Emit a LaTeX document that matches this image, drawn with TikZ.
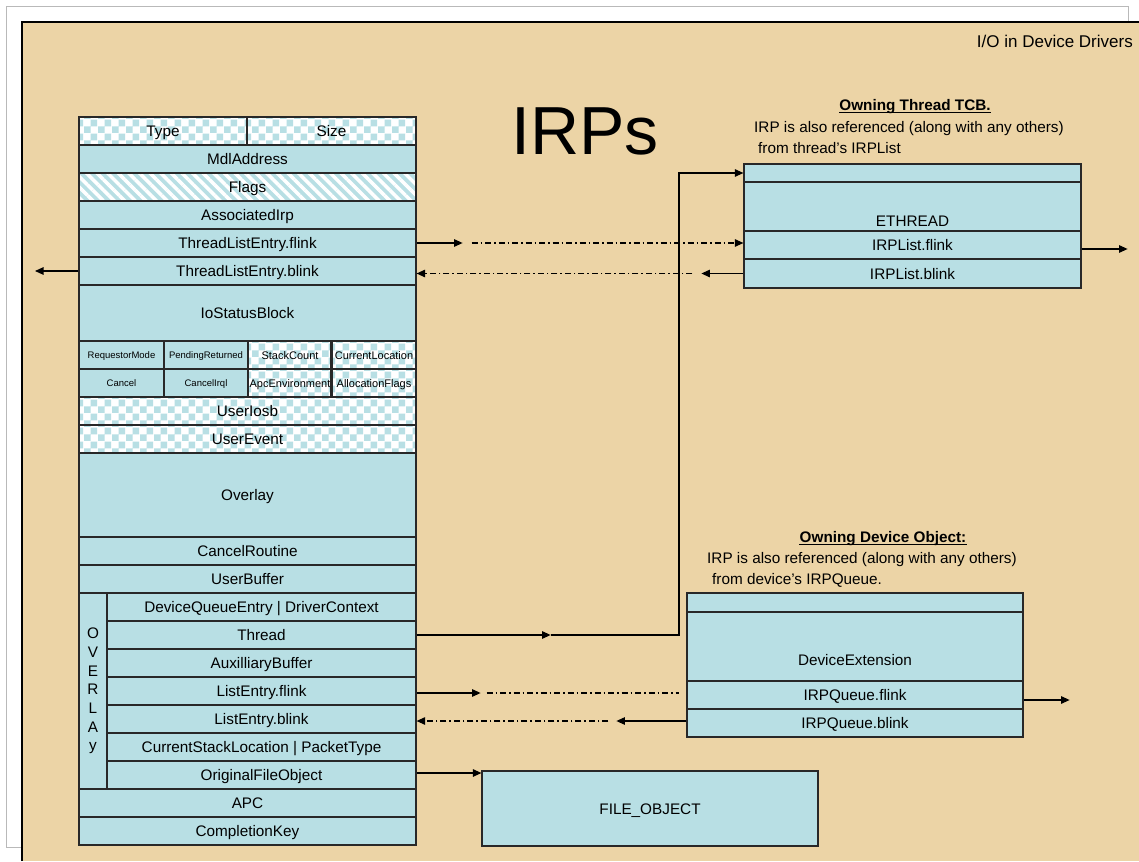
\documentclass[tikz,border=0pt]{standalone}
\usepackage{fontspec}
\setmainfont{Liberation Sans}
\usetikzlibrary{arrows.meta,patterns,patterns.meta}
\definecolor{cellblue}{RGB}{184,223,228}
\definecolor{tanbg}{RGB}{236,212,166}
\definecolor{linec}{RGB}{40,40,40}
\pgfdeclarepatternformonly{ckb}{\pgfpointorigin}{\pgfpoint{14pt}{14pt}}{\pgfpoint{14pt}{14pt}}{%
  \pgfpathrectangle{\pgfpointorigin}{\pgfpoint{7pt}{7pt}}%
  \pgfpathrectangle{\pgfpoint{7pt}{7pt}}{\pgfpoint{7pt}{7pt}}%
  \pgfusepath{fill}}
\newcommand\fbody{\fontsize{15.3}{18}\selectfont}
\newcommand\fsmall{\fontsize{9.5}{11}\selectfont}
\newcommand\fmid{\fontsize{11}{13}\selectfont}
\begin{document}
\begin{tikzpicture}[x=1pt,y=-1pt,
  >={Triangle[length=8.5pt,width=7.5pt]},
  cell/.style={draw=linec, line width=1.2pt, fill=cellblue, inner sep=0pt, font=\fbody, text height=11pt, text depth=0pt},
  ckcell/.style={draw=linec, line width=1.2pt, inner sep=0pt, font=\fbody, text height=11pt, text depth=0pt, preaction={fill=white}, pattern=ckb, pattern color=cellblue},
  flagcell/.style={cell, postaction={pattern={Lines[angle=-45,distance=7.5pt,line width=3.5pt]}, pattern color=white}, postaction={draw=linec, line width=1.2pt}},
  fullrow/.style={minimum width=337pt, minimum height=28pt},
  subrow/.style={minimum width=309pt, minimum height=28pt},
  qcell/.style={minimum width=84pt, minimum height=28pt},
  txt/.style={font=\fbody, inner sep=0pt, text height=11pt, text depth=0pt},
  conn/.style={draw=black, line width=1.1pt},
  dd/.style={conn, dash pattern=on 6pt off 3pt on 1.5pt off 3pt}]
% background
\useasboundingbox (0,0) rectangle (1139,861);
\fill[white] (0,0) rectangle (1139,861);
\draw[gray!55, line width=0.8pt] (6,6) rectangle (1128,847);
\fill[tanbg] (22,22) rectangle (1139,861);
\draw[black, line width=1.2pt] (22,861) -- (22,22) -- (1139,22);
% titles
\node[txt, font=\fontsize{17}{20}\selectfont, text height=12pt, anchor=east] (io) at (1133,42) {I/O in Device Drivers};
\node[inner sep=0pt, font=\fontsize{68}{70}\selectfont, text height=49pt, text depth=0pt] (title) at (585,130) {IRPs};
% IRP structure
\node[ckcell, minimum width=168pt, minimum height=28pt] (type) at (163,131) {Type};
\node[ckcell, minimum width=169pt, minimum height=28pt] (size) at (331.5,131) {Size};
\node[cell, fullrow] (mdl) at (247.5,159) {MdlAddress};
\node[flagcell, fullrow] (flags) at (247.5,187) {Flags};
\node[cell, fullrow] (assoc) at (247.5,215) {AssociatedIrp};
\node[cell, fullrow] (tlflink) at (247.5,243) {ThreadListEntry.flink};
\node[cell, fullrow] (tlblink) at (247.5,271) {ThreadListEntry.blink};
\node[cell, fullrow, minimum height=56pt] (iosb) at (247.5,313) {IoStatusBlock};
\node[cell, qcell, minimum width=85pt, font=\fsmall, text height=7pt] (reqmode) at (121.5,355) {RequestorMode};
\node[cell, qcell, font=\fsmall, text height=7pt] (pendret) at (206,355) {PendingReturned};
\node[ckcell, qcell, font=\fmid, text height=8pt] (stackcnt) at (290,355) {StackCount};
\node[ckcell, qcell, font=\fmid, text height=8pt] (curloc) at (374,355) {CurrentLocation};
\node[cell, qcell, minimum width=85pt, font=\fsmall, text height=7pt] (cancel) at (121.5,383) {Cancel};
\node[cell, qcell, font=\fsmall, text height=7pt] (cancelirql) at (206,383) {CancelIrql};
\node[ckcell, qcell, font=\fmid, text height=8pt] (apcenv) at (290,383) {ApcEnvironment};
\node[ckcell, qcell, font=\fmid, text height=8pt] (allocflags) at (374,383) {AllocationFlags};
\draw[linec, line width=2.4pt] (curloc.north west) -- (allocflags.south west);
\node[ckcell, fullrow] (useriosb) at (247.5,411) {UserIosb};
\node[ckcell, fullrow] (userevent) at (247.5,439) {UserEvent};
\node[cell, fullrow, minimum height=84pt] (overlay) at (247.5,495) {Overlay};
\node[cell, fullrow] (cancelr) at (247.5,551) {CancelRoutine};
\node[cell, fullrow] (userbuf) at (247.5,579) {UserBuffer};
\node[cell, minimum width=28pt, minimum height=196pt, align=center, text height=, text depth=, font=\fontsize{15.3}{18.7}\selectfont] (ovl) at (93,691) {O\\V\\E\\R\\L\\A\\y};
\node[cell, subrow] (dqe) at (261.5,607) {DeviceQueueEntry | DriverContext};
\node[cell, subrow] (thread) at (261.5,635) {Thread};
\node[cell, subrow] (auxbuf) at (261.5,663) {AuxilliaryBuffer};
\node[cell, subrow] (leflink) at (261.5,691) {ListEntry.flink};
\node[cell, subrow] (leblink) at (261.5,719) {ListEntry.blink};
\node[cell, subrow] (csl) at (261.5,747) {CurrentStackLocation | PacketType};
\node[cell, subrow] (ofo) at (261.5,775) {OriginalFileObject};
\node[cell, fullrow] (apc) at (247.5,803) {APC};
\node[cell, fullrow] (compkey) at (247.5,831) {CompletionKey};
% owning thread
\node[txt, font=\bfseries\fbody] (thdr) at (915,105) {Owning Thread TCB.};
\draw[black, line width=1pt] ([yshift=-1.8pt]thdr.south west) -- ([yshift=-1.8pt]thdr.south east);
\node[txt, anchor=west] (th1) at (754,127) {IRP is also referenced (along with any others)};
\node[txt, anchor=west] (th2) at (758,148) {from thread's IRPList};
\node[cell, minimum width=337pt, minimum height=18pt] (ethtop) at (912.5,173) {};
\node[cell, minimum width=337pt, minimum height=49pt] (ethmid) at (912.5,206.5) {};
\node[txt] (ethlbl) at (912.5,221) {ETHREAD};
\node[cell, minimum width=337pt, minimum height=28pt] (ethflink) at (912.5,245) {IRPList.flink};
\node[cell, minimum width=337pt, minimum height=29pt] (ethblink) at (912.5,273.5) {IRPList.blink};
% owning device
\node[txt, font=\bfseries\fbody] (dhdr) at (883,537) {Owning Device Object:};
\draw[black, line width=1pt] ([yshift=-1.8pt]dhdr.south west) -- ([yshift=-1.8pt]dhdr.south east);
\node[txt, anchor=west] (dh1) at (707,558) {IRP is also referenced (along with any others)};
\node[txt, anchor=west] (dh2) at (712,579) {from device's IRPQueue.};
\node[cell, minimum width=336pt, minimum height=19pt] (devtop) at (855,602.5) {};
\node[cell, minimum width=336pt, minimum height=69pt] (devmid) at (855,646.5) {};
\node[txt] (devlbl) at (855,660) {DeviceExtension};
\node[cell, minimum width=336pt, minimum height=28pt] (devflink) at (855,695) {IRPQueue.flink};
\node[cell, minimum width=336pt, minimum height=28pt] (devblink) at (855,723) {IRPQueue.blink};
% file object
\node[cell, minimum width=336pt, minimum height=75pt] (fo) at (650,808.5) {FILE\_OBJECT};
% connectors
\draw[conn,->] (tlflink.east) -- ++(46,0) coordinate (f1);
\draw[dd,->] ([xshift=9pt]f1) -- (f1 -| ethflink.west);
\draw[conn,->] (ethblink.west) -- ++(-42,0) coordinate (b1);
\draw[dd,->] ([xshift=-9pt]b1) -- (b1 -| tlblink.east);
\coordinate (lft) at (35,271);
\draw[conn,->] (tlblink.west) -- (lft);
\draw[conn,->] ([yshift=-4pt]ethflink.east) -- ++(46,0) coordinate (er);
\draw[conn,->] (thread.east) -- ++(134,0) coordinate (t1);
\coordinate (tbend) at (679,635);
\draw[conn,->] (t1) -- (tbend) |- (ethtop.west);
\draw[conn,->] ([yshift=-2pt]leflink.east) -- ++(64,0) coordinate (l1);
\draw[dd] ([xshift=6pt]l1) -- ([xshift=-7pt]l1 -| devflink.west);
\draw[conn,->] ([yshift=2pt]devblink.west) -- ++(-70,0) coordinate (d1);
\draw[dd,->] ([xshift=-8pt]d1) -- (d1 -| leblink.east);
\draw[conn,->] ([yshift=-5pt]devflink.east) -- ++(46,0) coordinate (dr);
\draw[conn,->] ([yshift=2pt]ofo.east) -- ([yshift=2pt]ofo.east -| fo.west);
\end{tikzpicture}
\end{document}
